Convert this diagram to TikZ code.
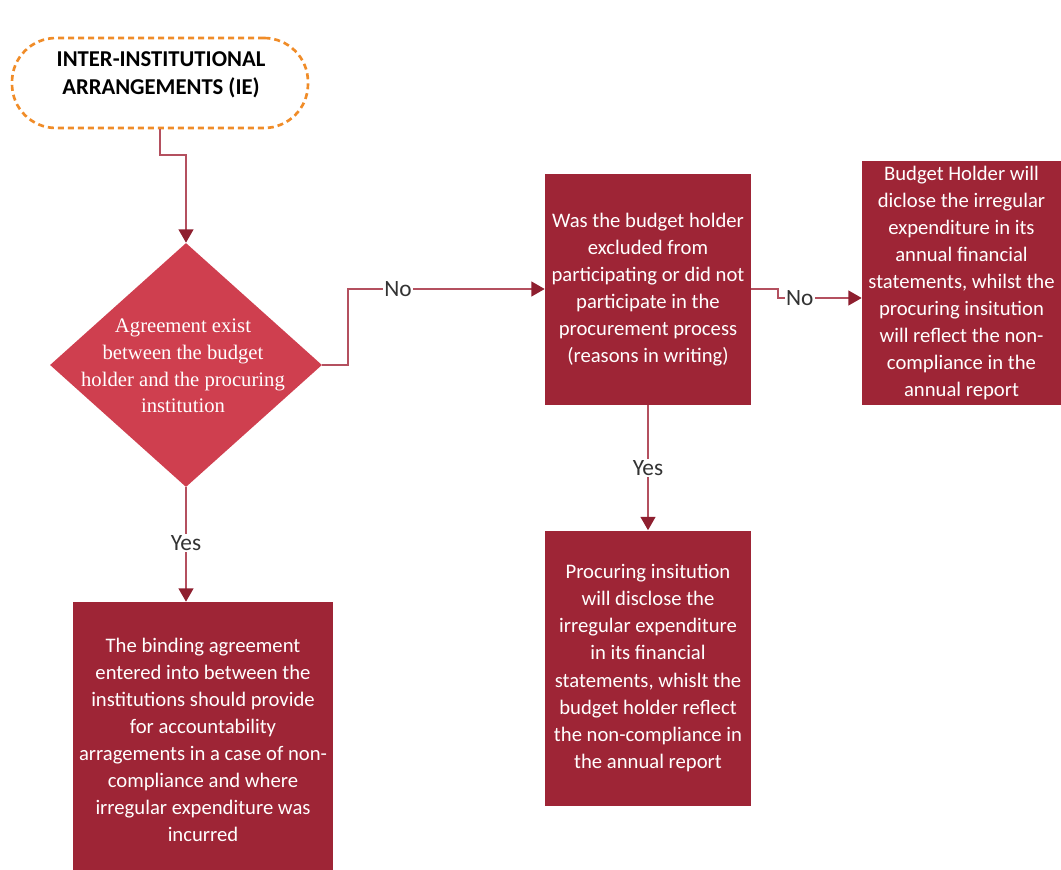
\documentclass[tikz,border=0pt]{standalone}
\usepackage{fontspec}
\setmainfont{Carlito}
\newfontfamily\diafont{Liberation Serif}
\usetikzlibrary{shapes.geometric,arrows.meta}
\definecolor{boxred}{HTML}{9E2536}
\definecolor{diared}{HTML}{CF3F4F}
\definecolor{linered}{HTML}{B4505F}
\definecolor{tipred}{HTML}{8E1F2F}
\definecolor{dashorange}{HTML}{F08C28}
\tikzset{
  px/.style={x=0.75pt,y=-0.75pt},
  procbox/.style={draw=none,fill=boxred,text=white,align=center,inner sep=0pt,
    font=\fontsize{15.5}{20.3}\selectfont},
  decbox/.style={diamond,draw=none,fill=diared,inner sep=0pt},
  dectext/.style={text=white,align=center,inner sep=0pt,
    font=\diafont\fontsize{15.5}{20}\selectfont},
  startbox/.style={draw=dashorange,line width=2pt,dash pattern=on 4.5pt off 3pt,
    rounded corners=33pt,inner sep=0pt},
  starttxt/.style={align=center,inner sep=0pt,
    font=\bfseries\fontsize{17}{21}\selectfont},
  conn/.style={draw=linered,line width=1.5pt,-{Triangle[length=10pt,width=11pt,fill=tipred,color=tipred]}},
  lbl/.style={fill=white,inner sep=1pt,text=black!80,font=\fontsize{17.5}{20}\selectfont}
}
\begin{document}
\begin{tikzpicture}[px]
\useasboundingbox (0,0) rectangle (1061,870);
\node[startbox,minimum width=222pt,minimum height=67.5pt] (start) at (160,83) {};
\node[starttxt] (starttext) at (161,75) {INTER-INSTITUTIONAL\\ARRANGEMENTS (IE)};
\node[decbox,minimum width=204pt,minimum height=183pt] (dec) at (186,365) {};
\node[dectext] (dectxt) at (183,366)
  {Agreement exist\\between the budget\\holder and the procuring\\institution};
\node[procbox,minimum width=154.5pt,minimum height=173.25pt] (q) at (648,289.5)
  {Was the budget holder\\excluded from\\participating or did not\\participate in the\\procurement process\\(reasons in writing)};
\node[procbox,minimum width=149.25pt,minimum height=182.25pt] (bh) at (961.5,283)
  {Budget Holder will\\diclose the irregular\\expenditure in its\\annual financial\\statements, whilst the\\procuring insitution\\will reflect the non-\\compliance in the\\annual report};
\node[procbox,minimum width=154.5pt,minimum height=206.25pt] (pi) at (648,668)
  {Procuring insitution\\will disclose the\\irregular expenditure\\in its financial\\statements, whislt the\\budget holder reflect\\the non-compliance in\\the annual report};
\node[procbox,minimum width=195pt,minimum height=207pt] (ba) at (203,740)
  {The binding agreement\\entered into between the\\institutions should provide\\for accountability\\arragements in a case of non-\\compliance and where\\irregular expenditure was\\incurred};
\coordinate (c1) at (160,155);
\coordinate (c2) at (186,155);
\draw[conn] (start.south) -- (c1) -- (c2) -- (dec.north);
\coordinate (c3) at (348,365);
\coordinate (c4) at (348,289);
\draw[conn] (dec.east) -- (c3) -- (c4) -- (q.west |- c4)
  node[lbl,pos=0.254] {No};
\coordinate (c5) at (778,289);
\coordinate (c6) at (778,298);
\draw[conn] (q.east |- c5) -- (c5) -- (c6) -- (bh.west |- c6)
  node[lbl,pos=0.26] {No};
\draw[conn] (q.south) -- (pi.north) node[lbl,midway] {Yes};
\draw[conn] (dec.south) -- (dec.south |- ba.north) node[lbl,pos=0.49] {Yes};
\end{tikzpicture}
\end{document}
